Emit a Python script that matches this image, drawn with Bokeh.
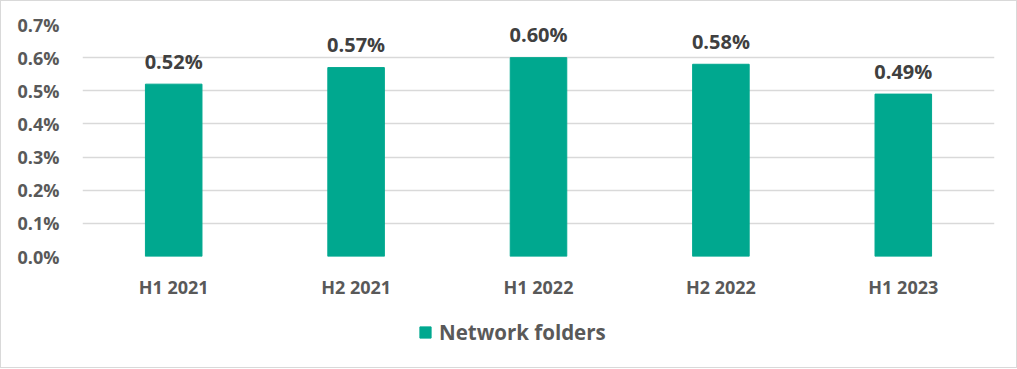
from bokeh.plotting import figure
from bokeh.layouts import column
from bokeh.models import ColumnDataSource, NumeralTickFormatter, Legend, LegendItem, FixedTicker
from bokeh.core.properties import value
from bokeh.embed import file_html
from bokeh.resources import INLINE

categories = ["H1 2021", "H2 2021", "H1 2022", "H2 2022", "H1 2023"]
values = [0.0052, 0.0057, 0.0060, 0.0058, 0.0049]
labels = ["0.52%", "0.57%", "0.60%", "0.58%", "0.49%"]
series_name = "Network folders"
y_ticks = [0.0, 0.001, 0.002, 0.003, 0.004, 0.005, 0.006, 0.007]

FONT = "Open Sans"
BAR = "#00A88F"

src = ColumnDataSource(dict(cat=categories, val=values, lab=labels))

p = figure(x_range=categories, y_range=(0, 0.007), width=1015, height=305,
           output_backend="svg", toolbar_location=None,
           min_border_left=81, min_border_right=22, min_border_top=23, min_border_bottom=50)

r = p.vbar(x="cat", top="val", width=0.31, color=BAR, source=src)
p.text(x="cat", y="val", text="lab", source=src, text_align="center",
       text_baseline="alphabetic", y_offset=-23, text_font=value(FONT),
       text_font_size="20px", text_font_style="bold", text_color="#404040")

p.outline_line_color = None
p.xgrid.grid_line_color = None
p.ygrid.grid_line_color = "#d9d9d9"
p.ygrid.grid_line_width = 1.5
p.yaxis.ticker = FixedTicker(ticks=y_ticks)
p.yaxis.formatter = NumeralTickFormatter(format="0.0%")

for ax in (p.xaxis[0], p.yaxis[0]):
    ax.axis_line_color = None
    ax.major_tick_line_color = None
    ax.minor_tick_line_color = None
    ax.major_label_text_font = FONT
    ax.major_label_text_font_size = "18px"
    ax.major_label_text_font_style = "bold"
    ax.major_label_text_color = "#595959"
p.yaxis.major_label_standoff = 17
p.xaxis.major_label_standoff = 12

# legend strip below the chart (bars kept out of its visible y range)
p2 = figure(x_range=categories, y_range=(1, 2), width=1015, height=61,
            output_backend="svg", toolbar_location=None,
            x_axis_type=None, y_axis_type=None,
            min_border_left=81, min_border_right=22, min_border_top=0, min_border_bottom=0)
p2.outline_line_color = None
p2.xgrid.grid_line_color = None
p2.ygrid.grid_line_color = None
r2 = p2.vbar(x="cat", top="val", width=0.31, color=BAR, source=src)

legend = Legend(items=[LegendItem(label=series_name, renderers=[r2])],
                location=(336, 21), orientation="horizontal",
                glyph_width=14, glyph_height=14, label_standoff=7,
                label_text_font=FONT, label_text_font_size="20.5px",
                label_text_font_style="bold", label_text_color="#595959",
                label_height=14, padding=0, margin=0, spacing=0,
                border_line_color=None, background_fill_alpha=0)
p2.add_layout(legend)

layout = column(p, p2, spacing=0, styles={"border": "1px solid #d9d9d9"})

open("out.html", "w").write(file_html(layout, INLINE))
